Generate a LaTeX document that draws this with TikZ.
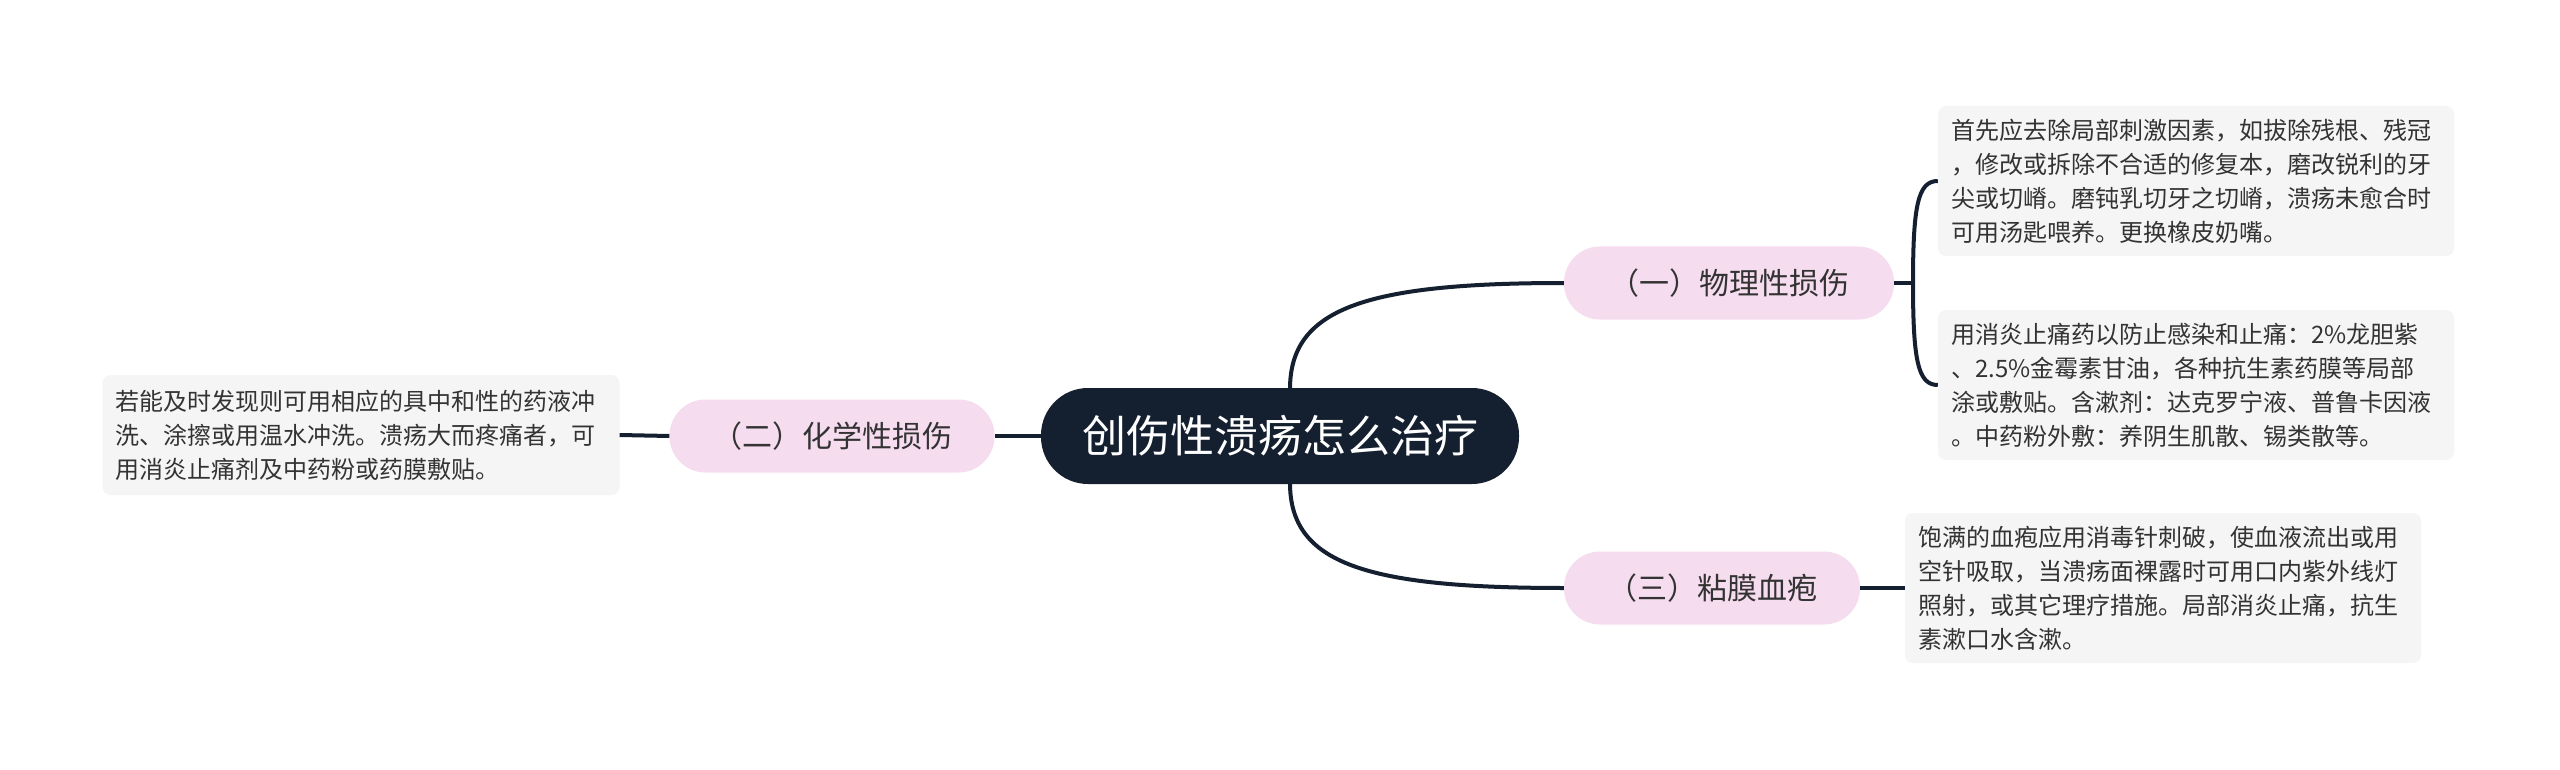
\documentclass[tikz,border=0pt]{standalone}
\usepackage{fontspec}
\setmainfont{Noto Sans CJK SC}
\definecolor{rootfill}{HTML}{14202F}
\definecolor{pinkfill}{HTML}{F6DCEF}
\definecolor{boxfill}{HTML}{F5F5F5}
\definecolor{linecol}{HTML}{14202F}
\definecolor{txt}{HTML}{333333}
\begin{document}
\begin{tikzpicture}[x=1pt,y=-1pt,
  rootnode/.style={fill=rootfill,text=white,rounded corners=47pt,minimum width=478pt,minimum height=96pt,inner sep=0pt,font=\fontsize{44}{50}\selectfont},
  topic/.style={fill=pinkfill,text=txt,rounded corners=36pt,minimum height=73pt,inner sep=0pt,font=\fontsize{30}{34}\selectfont},
  leaf/.style={fill=boxfill,text=txt,rounded corners=8pt,minimum width=#1,inner xsep=13pt,inner ysep=0pt,text width=#1-26pt,align=left,font=\fontsize{24}{34}\selectfont},
  conn/.style={draw=linecol,line width=4pt}]
\useasboundingbox (0,0) rectangle (2560,770);
\fill[white] (0,0) rectangle (2560,770);
\node[rootnode] (root) at (1280,436) {创伤性溃疡怎么治疗};
\node[topic,minimum width=330pt] (n1) at (1729,283) {（一）物理性损伤};
\node[topic,minimum width=325pt] (n2) at (832,436) {（二）化学性损伤};
\node[topic,minimum width=296pt] (n3) at (1712,588) {（三）粘膜血疱};
\node[leaf=516pt,minimum height=150pt] (b1) at (2196,181) {首先应去除局部刺激因素，如拔除残根、残冠\\，修改或拆除不合适的修复本，磨改锐利的牙\\尖或切嵴。磨钝乳切牙之切嵴，溃疡未愈合时\\可用汤匙喂养。更换橡皮奶嘴。};
\node[leaf=516pt,minimum height=150pt] (b2) at (2196,385) {用消炎止痛药以防止感染和止痛：2\%龙胆紫\\、2.5\%金霉素甘油，各种抗生素药膜等局部\\涂或敷贴。含漱剂：达克罗宁液、普鲁卡因液\\。中药粉外敷：养阴生肌散、锡类散等。};
\node[leaf=516pt,minimum height=150pt] (b3) at (2163,588) {饱满的血疱应用消毒针刺破，使血液流出或用\\空针吸取，当溃疡面裸露时可用口内紫外线灯\\照射，或其它理疗措施。局部消炎止痛，抗生\\素漱口水含漱。};
\node[leaf=517pt,minimum height=120pt] (b4) at (361,435) {若能及时发现则可用相应的具中和性的药液冲\\洗、涂擦或用温水冲洗。溃疡大而疼痛者，可\\用消炎止痛剂及中药粉或药膜敷贴。};
\coordinate (s1) at (1290,389);
\coordinate (s3) at (1290,483);
\coordinate (br) at (1913,283);
\draw[conn] (s1) .. controls (1290,309) and (1364,283) .. (n1.west);
\draw[conn] (s3) .. controls (1290,563) and (1364,588) .. (n3.west);
\draw[conn] (root.west) -- (n2.east);
\draw[conn] (n2.west) -- (b4.east);
\draw[conn] (n1.east) -- (br);
\draw[conn] (br) .. controls (1913,205) and (1918,181) .. (b1.west);
\draw[conn] (br) .. controls (1913,361) and (1918,385) .. (b2.west);
\draw[conn] (n3.east) -- (b3.west);
\end{tikzpicture}
\end{document}
